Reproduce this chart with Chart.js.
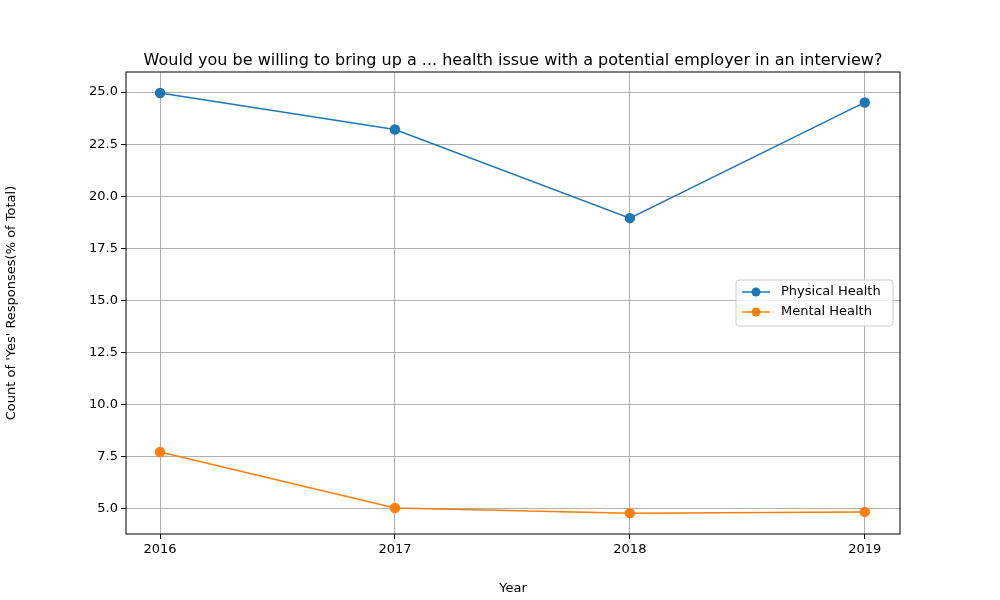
<!DOCTYPE html>
<html>
<head>
<meta charset="utf-8">
<script src="https://cdn.jsdelivr.net/npm/chart.js@4"></script>
<style>
  body { margin: 0; background: #fff; }
  #wrap { width: 1000px; height: 600px; }
</style>
</head>
<body>
<div id="wrap"><canvas id="chart" width="1000" height="600"></canvas></div>
<script>
const years = [2016, 2017, 2018, 2019];
const physicalHealth = [24.95, 23.2, 18.95, 24.5];
const mentalHealth = [7.73, 5.05, 4.8, 4.86];
const seriesNames = ["Physical Health", "Mental Health"];
const seriesColors = ["#1f77b4", "#ff7f0e"];
const chartTitle = "Would you be willing to bring up a ... health issue with a potential employer in an interview?";

const font = "DejaVu Sans";

const framePlugin = {
    id: "frame",
    afterDraw(chart) {
        const { ctx, chartArea: a } = chart;
        ctx.save();
        ctx.strokeStyle = "#000";
        ctx.lineWidth = 1;
        ctx.strokeRect(a.left, a.top, a.right - a.left, a.bottom - a.top);

        ctx.fillStyle = "#000";
        ctx.font = `16px '${font}'`;
        ctx.textAlign = "center";
        ctx.textBaseline = "alphabetic";
        ctx.fillText(chartTitle, (a.left + a.right) / 2, 65);

        // legend box
        const bx = 736, by = 280, bw = 157, bh = 46;
        ctx.fillStyle = "rgba(255,255,255,0.8)";
        ctx.strokeStyle = "#cccccc";
        ctx.beginPath();
        ctx.roundRect(bx, by, bw, bh, 3);
        ctx.fill();
        ctx.stroke();
        ctx.font = `13px '${font}'`;
        ctx.textAlign = "left";
        ctx.textBaseline = "middle";
        seriesNames.forEach((name, i) => {
            const y = by + 12 + i * 20;
            ctx.strokeStyle = seriesColors[i];
            ctx.lineWidth = 1.5;
            ctx.beginPath();
            ctx.moveTo(bx + 6, y);
            ctx.lineTo(bx + 34, y);
            ctx.stroke();
            ctx.fillStyle = seriesColors[i];
            ctx.beginPath();
            ctx.arc(bx + 20, y, 4.5, 0, Math.PI * 2);
            ctx.fill();
            ctx.fillStyle = "#000";
            ctx.fillText(name, bx + 45, y);
        });
        ctx.restore();
    }
};

const toPoints = (vals) => vals.map((v, i) => ({ x: years[i], y: v }));

new Chart(document.getElementById("chart").getContext("2d"), {
    type: "line",
    data: {
        datasets: [
            { label: seriesNames[0], data: toPoints(physicalHealth), borderColor: seriesColors[0], backgroundColor: seriesColors[0] },
            { label: seriesNames[1], data: toPoints(mentalHealth), borderColor: seriesColors[1], backgroundColor: seriesColors[1] },
        ].map(d => ({ ...d, borderWidth: 1.5, pointRadius: 4.5, pointHoverRadius: 4.5, tension: 0 })),
    },
    options: {
        responsive: false,
        animation: false,
        layout: { padding: { top: 72, right: 100, left: 0, bottom: 0 } },
        plugins: { legend: { display: false }, tooltip: { enabled: false } },
        scales: {
            x: {
                type: "linear",
                min: 2015.855,
                max: 2019.15,
                afterFit: (s) => { s.height = 66; },
                afterBuildTicks: (s) => { s.ticks = years.map(v => ({ value: v })); },
                ticks: { color: "#000", font: { family: font, size: 13 }, callback: (v) => String(v), maxRotation: 0 },
                grid: { color: "#b0b0b0", tickColor: "#000", tickLength: 5 },
                border: { display: false },
                title: { display: true, text: "Year", color: "#000", font: { family: font, size: 13 }, padding: { top: 2 } },
            },
            y: {
                min: 3.8,
                max: 25.96,
                afterFit: (s) => { s.width = 126; },
                afterBuildTicks: (s) => {
                    const t = [];
                    for (let v = 5; v <= 25; v += 2.5) t.push({ value: v });
                    s.ticks = t;
                },
                ticks: { color: "#000", font: { family: font, size: 13 }, callback: (v) => v.toFixed(1) },
                grid: { color: "#b0b0b0", tickColor: "#000", tickLength: 5 },
                border: { display: false },
                title: { display: true, text: "Count of 'Yes' Responses(% of Total)", color: "#000", font: { family: font, size: 13 } },
            },
        },
    },
    plugins: [framePlugin],
});
</script>
</body>
</html>
